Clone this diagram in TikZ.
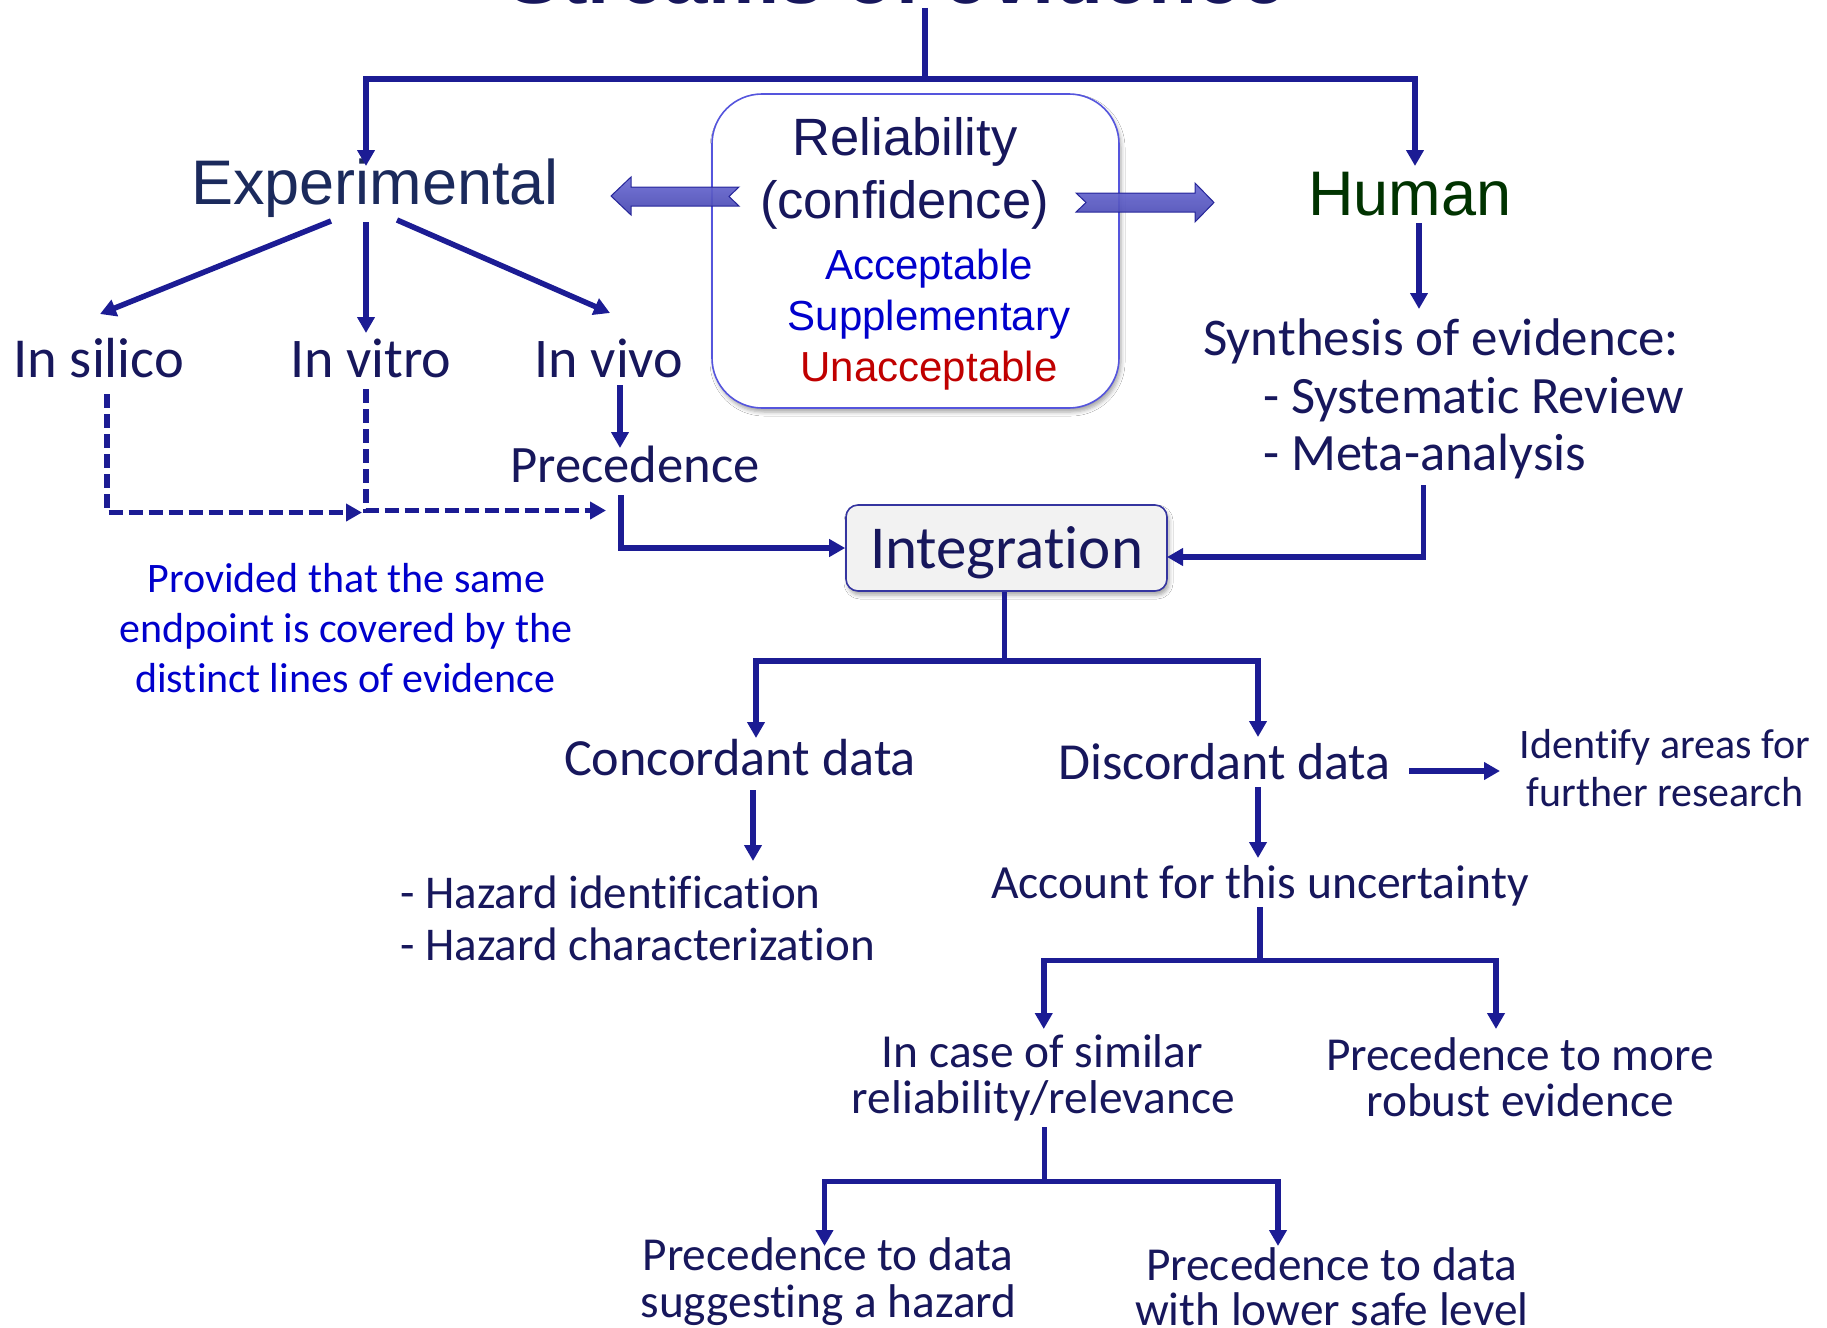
\documentclass[tikz,border=0pt]{standalone}
\usepackage{fontspec}
\newfontfamily\calf[Ligatures={NoCommon,NoRequired,NoContextual}]{Carlito}
\newfontfamily\arif{Liberation Sans}
\usetikzlibrary{arrows.meta,shadows.blur}
\definecolor{lnc}{HTML}{1C1C94}
\definecolor{txc}{HTML}{17175C}
\definecolor{expc}{HTML}{1B2A5C}
\definecolor{humc}{HTML}{003300}
\definecolor{bluc}{HTML}{0000CC}
\definecolor{unc}{HTML}{C00000}
\definecolor{boxb}{HTML}{5555DD}
\definecolor{intb}{HTML}{3535A0}
\definecolor{blka}{HTML}{6C6CD4}
\definecolor{blkb}{HTML}{A0A0EE}
\definecolor{blkc}{HTML}{4646B0}
\begin{document}
\begin{tikzpicture}[x=1pt,y=-1pt,
  ln/.style={draw=lnc, line width=5.5pt},
  ar/.style={ln, -{Triangle[width=17pt,length=16pt]}},
  dar/.style={ar, dash pattern=on 14pt off 6pt},
  cf/.style={font=\calf\fontsize{#1}{#1}\selectfont, text=txc, inner sep=0pt, anchor=base},
  cfw/.style={cf=#1, anchor=base west},
  af/.style={font=\arif\fontsize{#1}{#1}\selectfont, text=txc, inner sep=0pt, anchor=base},
  blk/.style={draw=lnc, line width=1pt, top color=blka, middle color=blkb, bottom color=blkc, opacity=0.92}
]
\useasboundingbox (0,0) rectangle (1827,1327);
\clip (0,0) rectangle (1827,1327);
\fill[white] (0,0) rectangle (1827,1327);

% title
\node[font=\arif\bfseries\fontsize{80}{80}\selectfont, text=txc, inner sep=0pt, anchor=base] (title) at (897,4) {Streams of evidence};

% reliability box
\node[draw=boxb, line width=1.6pt, fill=white, rounded corners=50pt, minimum width=407pt, minimum height=314pt, inner sep=0pt,
  blur shadow={shadow xshift=2pt, shadow yshift=-4pt, shadow blur radius=4pt, shadow opacity=35}] (rel) at (915.5,251) {};
\node[af=52.5] (rel1) at (905,155) {Reliability};
\node[af=52.5] (rel2) at (904.5,218) {(confidence)};
\node[af=42, text=bluc] (acc) at (929,279) {Acceptable};
\node[af=42, text=bluc] (sup) at (929,330) {Supplementary};
\node[af=42, text=unc] (una) at (929,381.7) {Unacceptable};

% block arrows
\path[blk] (611,196) -- (631,177) -- (631,187) -- (739,187) -- (729,196.5) -- (739,206) -- (631,206) -- (631,215) -- cycle;
\path[blk] (1076,193) -- (1195,193) -- (1195,183) -- (1214,202.5) -- (1195,222) -- (1195,212) -- (1076,212) -- (1086,202.5) -- cycle;

% top level
\node[af=63, text=expc] (exp) at (375,204) {Experimental};
\node[af=63, text=humc] (hum) at (1410,215) {Human};

\coordinate (t0) at (925,8);
\coordinate (tj) at (925,79);
\coordinate (expin) at (366,166);
\coordinate (humin) at (1415,166);
\draw[ln] (t0) -- (tj);
\draw[ar] (tj) -| (expin);
\draw[ar] (tj) -| (humin);

% experimental branches
\node[cf=56.5] (sil) at (98.7,377) {In silico};
\node[cf=56] (vitro) at (370.8,377) {In vitro};
\node[cf=56] (vivo) at (609,377) {In vivo};
\coordinate (e1) at (331,221); \coordinate (e1t) at (100,314);
\coordinate (e2) at (366,222); \coordinate (e2t) at (366,333);
\coordinate (e3) at (397,220); \coordinate (e3t) at (610,313);
\draw[ar] (e1) -- (e1t);
\draw[ar] (e2) -- (e2t);
\draw[ar] (e3) -- (e3t);

\node[cf=52.6] (prec) at (635,482) {Precedence};
\coordinate (v1) at (620,385); \coordinate (v1t) at (620,448);
\draw[ar] (v1) -- (v1t);

% dashed
\coordinate (d1) at (107,394); \coordinate (d1t) at (362,512.5);
\coordinate (d2) at (366,389); \coordinate (d2t) at (606,510.5);
\draw[dar] (d1) |- (d1t);
\draw[dar] (d2) |- (d2t);

\node[cf=42, text=bluc] (pv1) at (346.5,592) {Provided that the same};
\node[cf=42, text=bluc] (pv2) at (346,642) {endpoint is covered by the};
\node[cf=42, text=bluc] (pv3) at (345.5,692) {distinct lines of evidence};

% human branch
\coordinate (h1) at (1419,223); \coordinate (h1t) at (1419,309);
\draw[ar] (h1) -- (h1t);
\node[cfw=53] (syn1) at (1203,355) {Synthesis of evidence:};
\node[cfw=52.5] (syn2) at (1263,413) {- Systematic Review};
\node[cfw=52.5] (syn3) at (1263,470) {- Meta-analysis};

% integration
\node[draw=intb, line width=1.6pt, fill=black!5, rounded corners=12pt, minimum width=321pt, minimum height=86pt,
  inner sep=0pt, text height=45pt, text depth=5pt, font=\calf\fontsize{61}{61}\selectfont, text=txc,
  blur shadow={shadow xshift=2pt, shadow yshift=-4pt, shadow blur radius=4pt, shadow opacity=35}] (integ) at (1006.5,548) {Integration};

\coordinate (p1) at (621,495);
\draw[ar] (p1) |- (integ.west);
\coordinate (m1) at (1423.5,485); \coordinate (ie) at (1167,557);
\draw[ar] (m1) |- (ie);

% integration -> concordant / discordant
\coordinate (j2) at (1004.5,661);
\coordinate (cin) at (756,738); \coordinate (din) at (1258,737);
\draw[ln] (integ.south -| j2) -- (j2);
\draw[ar] (j2) -| (cin);
\draw[ar] (j2) -| (din);

\node[cf=52.2] (conc) at (740,775) {Concordant data};
\node[cf=52] (disc) at (1224.5,779) {Discordant data};

\coordinate (c1) at (753,790); \coordinate (c1t) at (753,861);
\draw[ar] (c1) -- (c1t);
\node[cfw=47] (haz1) at (400,908) {- Hazard identification};
\node[cfw=47] (haz2) at (400,960) {- Hazard characterization};

\coordinate (dd1) at (1409,771); \coordinate (dd1t) at (1500,771);
\draw[ar] (dd1) -- (dd1t);
\node[cf=42] (id1) at (1665,758) {Identify areas for};
\node[cf=42] (id2) at (1665,806) {further research};

\coordinate (dd2) at (1258,787); \coordinate (dd2t) at (1258,858);
\draw[ar] (dd2) -- (dd2t);
\node[cf=47.6] (acct) at (1260,898) {Account for this uncertainty};

% account branch
\coordinate (a1) at (1260,907); \coordinate (j3) at (1260,960.5);
\coordinate (cs) at (1043.75,1029); \coordinate (rb) at (1496,1029);
\draw[ln] (a1) -- (j3);
\draw[ar] (j3) -| (cs);
\draw[ar] (j3) -| (rb);

\node[cf=47.4] (cs1) at (1042.5,1067) {In case of similar};
\node[cf=47.4] (cs2) at (1043.3,1113) {reliability/relevance};
\node[cf=47.3] (rb1) at (1520,1070) {Precedence to more};
\node[cf=47.3] (rb2) at (1520,1116) {robust evidence};

% last branch
\coordinate (b1) at (1044.5,1127); \coordinate (j4) at (1044.5,1181.7);
\coordinate (hz) at (824.5,1246); \coordinate (lw) at (1278,1246);
\draw[ln] (b1) -- (j4);
\draw[ar] (j4) -| (hz);
\draw[ar] (j4) -| (lw);

\node[cf=47.3] (hz1) at (828,1270) {Precedence to data};
\node[cf=47.3] (hz2) at (828.6,1317) {suggesting a hazard};
\node[cf=47.3] (lw1) at (1331.5,1280) {Precedence to data};
\node[cf=47.3] (lw2) at (1331.8,1325) {with lower safe level};
\end{tikzpicture}
\end{document}
